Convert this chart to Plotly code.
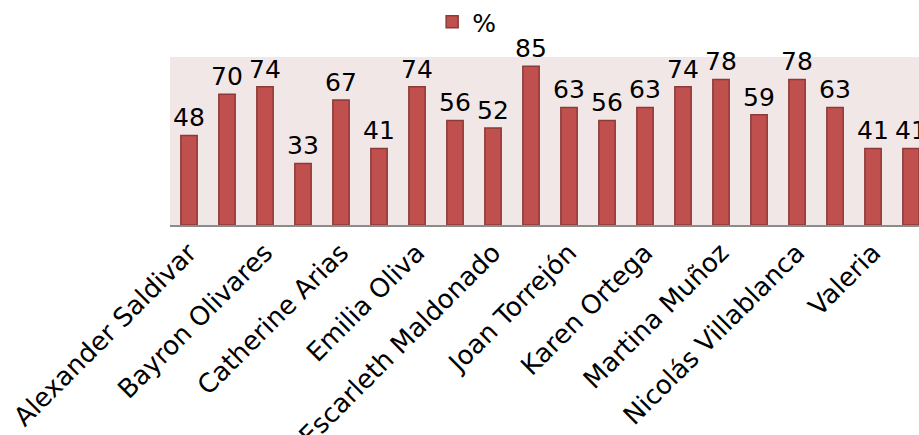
import plotly.graph_objects as go

values = [48, 70, 74, 33, 67, 41, 74, 56, 52, 85, 63, 56, 63, 74, 78, 59, 78, 63, 41, 41]
positions = list(range(len(values)))
tick_positions = [0, 2, 4, 6, 8, 10, 12, 14, 16, 18]
tick_labels = ["Alexander Saldivar", "Bayron Olivares", "Catherine Arias", "Emilia Oliva",
               "Escarleth Maldonado", "Joan Torrejón", "Karen Ortega", "Martina Muñoz",
               "Nicolás Villablanca", "Valeria"]
series_name = "%"

FONT = "DejaVu Sans"

fig = go.Figure()
fig.add_trace(go.Bar(
    x=positions, y=values, name=series_name,
    width=0.43,
    marker=dict(color="#C0504D", line=dict(color="#8C3A38", width=1.5)),
    text=[str(v) for v in values], textposition="outside",
    textfont=dict(family=FONT, size=25, color="#000000"),
    cliponaxis=False, constraintext="none",
))

fig.update_layout(
    width=919, height=435,
    margin=dict(l=170, r=0, t=57, b=210, autoexpand=False),
    paper_bgcolor="#FFFFFF", plot_bgcolor="#F2E7E7",
    font=dict(family=FONT, size=25, color="#000000"),
    showlegend=True,
    legend=dict(orientation="h", x=0.35, xanchor="left", y=1.345, yanchor="top",
                font=dict(family=FONT, size=25), bgcolor="rgba(0,0,0,0)",
                itemwidth=30),
    bargap=0.57,
)
fig.update_xaxes(range=[-0.5, 19.21], tickmode="array", tickvals=tick_positions,
                 ticktext=tick_labels, tickangle=-45, showgrid=False, zeroline=False,
                 showline=True, linecolor="#8C8C8C", linewidth=2, ticks="",
                 automargin=False,
                 tickfont=dict(family=FONT, size=26, color="#000000"))
fig.update_yaxes(range=[0, 90], showticklabels=False, showgrid=False, zeroline=False,
                 showline=False, ticks="", automargin=False)

fig.write_html("out.html", config={"displayModeBar": False},
               post_script="document.body.style.margin='0';document.body.style.overflow='hidden';")
